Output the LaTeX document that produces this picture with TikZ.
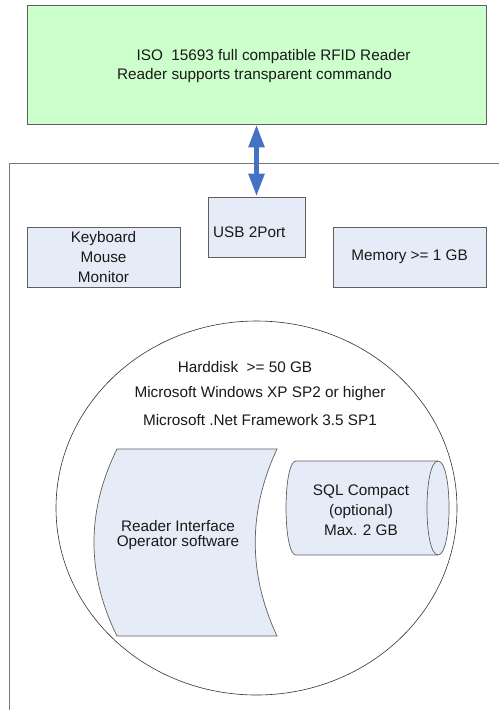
\documentclass[tikz,border=0pt]{standalone}
\usepackage{fontspec}
\setmainfont{Liberation Sans}
\usetikzlibrary{arrows.meta,shapes.geometric}
\definecolor{greenfill}{RGB}{204,255,204}
\definecolor{boxfill}{RGB}{230,236,247}
\definecolor{edgegray}{RGB}{95,95,95}
\definecolor{framegray}{RGB}{120,120,120}
\definecolor{arrowblue}{RGB}{68,114,196}
\definecolor{textcol}{RGB}{25,25,25}
\begin{document}
\begin{tikzpicture}[x=1pt,y=-1pt,
  font=\fontsize{15.3}{20}\selectfont, text=textcol,
  box/.style={draw=edgegray, fill=boxfill, line width=0.8pt, inner sep=0pt, align=center},
  txt/.style={inner sep=0pt, align=center},
  shapeline/.style={draw=edgegray, fill=boxfill, line width=0.7pt},
  bigarrow/.style={arrowblue, line width=5.3pt, {Triangle[width=15pt,length=23pt]}-{Triangle[width=15pt,length=23pt]}}]
\useasboundingbox (0,0) rectangle (499,710);
\fill[white] (0,0) rectangle (499,710);
% outer frame
\coordinate (fbl) at (9,710);
\coordinate (ftl) at (9,163);
\coordinate (ftr) at (499,163);
\draw[framegray, line width=0.8pt] (fbl) -- (ftl) -- (ftr);
% reader box
\node[box, fill=greenfill, minimum width=459pt, minimum height=119pt] (reader) at (256.5,64.5) {};
\node[txt] (rl1) at (273.5,57) {ISO\ \ 15693 full compatible RFID Reader};
\node[txt] (rl2) at (254.5,76) {Reader supports transparent commando};
% small boxes
\node[box, minimum width=97pt, minimum height=60pt] (usb) at (256.5,227) {};
\node[txt, anchor=west] (usbt) at (213,232) {USB 2Port};
\node[box, minimum width=153pt, minimum height=60pt] (kbd) at (103.5,257) {Keyboard\\Mouse\\Monitor};
\node[box, minimum width=153pt, minimum height=60pt] (mem) at (409.5,257) {Memory >= 1 GB};
% arrow
\draw[bigarrow] (reader.south) -- (usb.north);
% disk
\node[ellipse, draw=black!80, line width=0.6pt, inner sep=0pt, minimum width=401pt, minimum height=374pt] (disk) at (256.5,508) {};
\node[txt] (hd) at (245,367) {Harddisk\ \ >= 50 GB};
\node[txt] (win) at (260,394) {Microsoft Windows XP SP2 or higher};
\node[txt] (net) at (260,420) {Microsoft .Net Framework 3.5 SP1};
% operator software shape
\path[shapeline] (117,449) -- (277,449)
  .. controls (248,511) and (248,574) .. (277,636)
  -- (117,636)
  .. controls (86.3,574) and (86.3,511) .. (117,449) -- cycle;
\node[txt, font=\fontsize{15.3}{15}\selectfont] (ops) at (178,535.5) {Reader Interface\\Operator software};
% SQL cylinder
\path[shapeline] (296,461) -- (438,461)
  .. controls (452.7,461) and (452.7,555) .. (438,555)
  -- (296,555)
  .. controls (282.7,555) and (282.7,461) .. (296,461) -- cycle;
\draw[edgegray, line width=0.7pt] (438,461) .. controls (423.3,461) and (423.3,555) .. (438,555);
\node[txt] (sql) at (361,510) {SQL Compact\\(optional)\\Max. 2 GB};
\end{tikzpicture}
\end{document}
